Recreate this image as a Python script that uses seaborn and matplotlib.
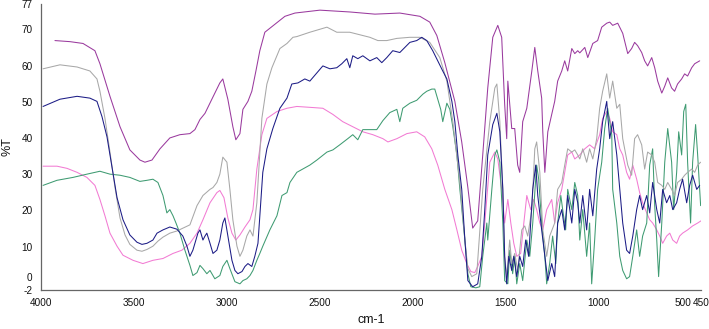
import numpy as np
import pandas as pd
import matplotlib
matplotlib.use("Agg")
import matplotlib.pyplot as plt
import seaborn as sns

# ---- data (wavenumber cm-1, %T) ----
purple_wn = [3925, 3844, 3774, 3710, 3683, 3629, 3575, 3522, 3468, 3441, 3403, 3360, 3307, 3253, 3199, 3172, 3145, 3118, 3081, 3038, 3022, 2995, 2968, 2952, 2930, 2914, 2887, 2866, 2844, 2823, 2796, 2742, 2688, 2634, 2500, 2339, 2204, 2070, 1962, 1909, 1871, 1828, 1774, 1737, 1704, 1678, 1651, 1624, 1597, 1570, 1543, 1522, 1506, 1495, 1489, 1468, 1452, 1436, 1425, 1409, 1387, 1360, 1344, 1328, 1307, 1301, 1290, 1274, 1253, 1237, 1221, 1199, 1183, 1167, 1145, 1129, 1113, 1102, 1075, 1059, 1032, 1006, 984, 957, 941, 925, 898, 871, 844, 823, 807, 791, 769, 753, 737, 715, 699, 683, 661, 645, 629, 608, 592, 576, 554, 538, 522, 500, 484, 457]
purple_t = [66.9, 66.6, 66.1, 64.1, 60.5, 51.5, 43.1, 36.7, 33.9, 33.3, 33.9, 37.0, 40.0, 40.9, 41.2, 42.3, 45.1, 46.8, 50.7, 55.2, 56.3, 50.7, 43.1, 39.5, 41.2, 47.9, 50.1, 52.9, 58.5, 64.1, 69.2, 71.4, 73.6, 74.5, 75.3, 74.8, 74.2, 74.5, 73.6, 72.0, 68.3, 60.8, 50.1, 38.9, 26.3, 15.1, 17.1, 35.3, 53.8, 67.8, 71.1, 67.8, 49.3, 39.8, 55.7, 42.6, 42.6, 32.5, 30.5, 44.5, 48.2, 58.5, 65.0, 58.5, 51.0, 41.7, 30.5, 41.7, 46.5, 50.1, 55.7, 58.5, 61.3, 58.5, 64.7, 63.3, 64.1, 63.5, 65.0, 62.2, 66.1, 66.9, 70.6, 71.7, 72.0, 71.1, 71.7, 68.9, 63.3, 64.7, 66.4, 65.5, 63.6, 61.3, 59.9, 62.2, 59.4, 55.7, 52.4, 54.3, 56.6, 53.8, 52.9, 54.9, 56.3, 57.7, 57.1, 59.4, 60.5, 61.3]

gray_wn = [3989, 3898, 3806, 3737, 3699, 3683, 3656, 3629, 3602, 3575, 3548, 3522, 3484, 3457, 3430, 3398, 3371, 3344, 3307, 3269, 3199, 3161, 3129, 3091, 3075, 3054, 3038, 3022, 3000, 2984, 2968, 2946, 2930, 2914, 2893, 2876, 2860, 2839, 2812, 2785, 2758, 2715, 2677, 2645, 2624, 2554, 2462, 2409, 2339, 2231, 2188, 2140, 2086, 2016, 1962, 1909, 1855, 1817, 1785, 1747, 1720, 1704, 1683, 1656, 1624, 1586, 1559, 1548, 1532, 1516, 1506, 1495, 1479, 1468, 1452, 1436, 1414, 1398, 1382, 1360, 1344, 1334, 1317, 1301, 1280, 1264, 1237, 1221, 1199, 1183, 1167, 1145, 1129, 1113, 1102, 1086, 1065, 1049, 1032, 1011, 995, 979, 957, 941, 925, 903, 887, 871, 844, 823, 807, 791, 769, 753, 737, 715, 699, 683, 661, 645, 629, 608, 592, 576, 554, 538, 522, 500, 484, 468, 452]
gray_t = [59.1, 60.2, 59.6, 58.5, 56.3, 52.9, 45.4, 36.1, 26.3, 17.9, 13.2, 10.6, 9.0, 8.7, 9.2, 10.1, 11.5, 12.6, 13.7, 14.3, 16.0, 21.3, 24.1, 25.8, 26.3, 27.7, 30.0, 34.7, 33.3, 25.8, 17.4, 10.1, 7.3, 9.0, 12.9, 14.6, 12.9, 22.1, 45.4, 54.9, 59.4, 64.7, 66.1, 67.8, 68.0, 69.2, 70.6, 69.2, 69.2, 67.8, 66.9, 66.9, 67.5, 67.8, 67.8, 66.4, 62.2, 55.7, 44.5, 27.7, 11.8, 3.9, 1.7, 2.5, 25.8, 44.5, 53.8, 54.9, 44.5, 25.8, 7.3, 1.7, 11.8, 5.3, 8.1, 3.4, 14.6, 15.7, 12.9, 20.2, 37.0, 38.9, 30.5, 14.6, 7.3, 12.9, 16.5, 25.8, 27.7, 32.5, 37.0, 36.1, 36.7, 35.3, 34.2, 37.0, 33.3, 37.0, 34.2, 39.8, 48.2, 52.9, 57.7, 51.0, 55.7, 48.2, 49.3, 39.8, 32.5, 29.7, 39.8, 40.9, 38.1, 31.4, 36.1, 35.3, 33.3, 27.7, 26.9, 25.8, 27.7, 25.8, 24.1, 27.7, 28.6, 29.7, 30.5, 31.4, 30.5, 32.5, 33.3]

blue_wn = [3989, 3898, 3806, 3737, 3699, 3672, 3645, 3618, 3591, 3559, 3522, 3484, 3457, 3430, 3398, 3376, 3344, 3307, 3269, 3237, 3215, 3199, 3183, 3156, 3145, 3129, 3118, 3108, 3091, 3075, 3054, 3038, 3022, 3011, 2995, 2973, 2957, 2941, 2919, 2903, 2887, 2866, 2850, 2833, 2807, 2785, 2753, 2715, 2677, 2651, 2618, 2581, 2554, 2516, 2484, 2446, 2409, 2382, 2355, 2339, 2323, 2296, 2269, 2231, 2194, 2167, 2140, 2108, 2070, 2043, 2016, 1979, 1952, 1925, 1893, 1866, 1839, 1817, 1790, 1774, 1758, 1737, 1720, 1704, 1678, 1651, 1629, 1613, 1597, 1570, 1548, 1532, 1516, 1506, 1495, 1484, 1468, 1457, 1441, 1425, 1409, 1393, 1377, 1355, 1339, 1328, 1307, 1290, 1274, 1253, 1237, 1221, 1199, 1183, 1167, 1145, 1129, 1113, 1102, 1086, 1065, 1049, 1032, 1011, 995, 979, 957, 952, 941, 925, 903, 887, 871, 850, 834, 817, 796, 780, 764, 742, 726, 710, 688, 672, 656, 635, 618, 602, 581, 565, 549, 527, 511, 495, 473, 457]
blue_t = [48.7, 50.7, 51.5, 51.0, 50.1, 45.9, 40.3, 31.9, 23.5, 17.4, 13.2, 11.2, 10.6, 10.9, 11.8, 13.7, 14.6, 15.4, 14.8, 12.9, 10.1, 7.3, 9.0, 13.7, 14.6, 11.8, 12.9, 13.7, 10.9, 8.1, 9.0, 11.8, 16.5, 17.9, 12.9, 6.2, 3.4, 2.5, 3.1, 4.5, 5.3, 4.5, 7.3, 10.9, 30.5, 37.0, 42.6, 48.2, 51.0, 54.9, 55.2, 56.3, 55.7, 58.0, 59.9, 59.1, 59.4, 60.5, 61.9, 59.4, 62.7, 61.9, 62.7, 61.3, 62.2, 60.8, 62.2, 64.1, 63.6, 65.0, 66.4, 66.9, 67.8, 66.9, 64.1, 61.3, 58.5, 56.3, 50.1, 44.5, 35.3, 25.8, 11.8, 0.6, -1.1, -0.3, 7.3, 20.2, 35.3, 43.7, 46.8, 41.7, 25.8, 7.3, -0.3, 7.3, 3.4, 7.3, 1.7, 7.3, 4.5, 11.8, 7.3, 25.8, 32.5, 24.1, 14.6, 7.3, 0.6, 5.3, 1.7, 16.5, 20.2, 14.6, 24.1, 16.5, 25.8, 22.1, 16.5, 24.1, 14.6, 25.8, 18.5, 31.4, 37.0, 44.5, 50.1, 46.5, 39.8, 44.5, 35.3, 25.8, 16.5, 9.0, 8.1, 12.9, 20.2, 24.1, 20.2, 24.1, 19.3, 27.7, 20.2, 16.5, 25.8, 22.1, 24.1, 20.2, 22.1, 25.8, 28.6, 22.1, 26.9, 29.7, 25.8, 26.9]

green_wn = [3989, 3914, 3828, 3753, 3683, 3629, 3575, 3522, 3468, 3430, 3398, 3371, 3344, 3323, 3307, 3290, 3274, 3253, 3226, 3199, 3183, 3161, 3145, 3129, 3108, 3091, 3065, 3038, 3022, 3000, 2984, 2957, 2930, 2914, 2893, 2876, 2860, 2839, 2823, 2807, 2769, 2731, 2704, 2677, 2661, 2624, 2592, 2554, 2516, 2462, 2430, 2393, 2350, 2323, 2296, 2269, 2231, 2194, 2161, 2124, 2086, 2070, 2054, 2016, 1979, 1946, 1925, 1898, 1882, 1866, 1850, 1839, 1817, 1801, 1785, 1763, 1747, 1720, 1704, 1688, 1661, 1640, 1624, 1602, 1597, 1575, 1559, 1548, 1532, 1516, 1506, 1489, 1479, 1463, 1452, 1441, 1425, 1409, 1387, 1371, 1355, 1334, 1323, 1307, 1290, 1280, 1264, 1248, 1231, 1221, 1204, 1194, 1178, 1167, 1145, 1129, 1113, 1102, 1086, 1065, 1049, 1038, 1022, 1006, 984, 968, 952, 930, 925, 903, 887, 871, 850, 834, 817, 796, 780, 764, 742, 726, 710, 699, 688, 678, 661, 645, 629, 608, 597, 581, 570, 554, 543, 532, 522, 506, 495, 479, 468, 452]
green_t = [26.9, 28.3, 29.1, 30.0, 30.8, 30.0, 29.7, 29.1, 28.0, 28.3, 28.6, 27.7, 24.1, 19.3, 20.2, 18.5, 16.5, 13.7, 9.0, 4.8, 2.0, 2.8, 4.8, 3.9, 2.5, 3.4, 1.1, 2.0, 4.5, 6.2, 3.9, 0.3, -0.3, 0.6, 1.1, 2.0, 3.4, 6.2, 8.1, 10.1, 14.6, 18.5, 24.1, 24.9, 27.7, 30.5, 31.4, 32.5, 33.9, 36.1, 36.7, 38.1, 39.8, 40.9, 39.5, 42.3, 42.3, 42.3, 44.8, 47.0, 47.9, 44.5, 48.2, 49.6, 50.4, 52.1, 52.9, 53.5, 53.5, 50.7, 47.9, 44.5, 49.6, 47.9, 43.1, 35.3, 25.8, 11.8, 2.5, -1.1, -1.4, -1.1, 7.3, 16.5, 11.8, 25.8, 35.3, 36.7, 33.3, 16.5, 0.6, -0.3, 9.0, 2.5, 7.3, -0.3, 5.3, 0.6, 11.8, 7.3, 16.5, 32.5, 28.6, 16.5, 7.3, -0.3, 5.3, 12.9, 5.3, 16.5, 24.1, 20.2, 14.6, 25.8, 20.2, 27.7, 24.1, 11.8, 20.2, 7.3, 16.5, -0.3, 11.8, 25.8, 33.3, 42.6, 48.2, 40.9, 25.8, 16.5, 7.3, 3.4, 1.1, 1.7, 7.3, 14.6, 7.3, 12.9, 16.5, 32.5, 37.0, 21.3, 11.8, 1.7, 16.5, 33.3, 42.6, 33.3, 20.2, 30.5, 41.7, 35.3, 47.3, 49.3, 33.3, 16.5, 33.3, 43.7, 35.3, 21.3]

pink_wn = [3989, 3914, 3860, 3806, 3753, 3710, 3683, 3656, 3629, 3591, 3559, 3505, 3452, 3398, 3344, 3290, 3242, 3199, 3161, 3129, 3091, 3054, 3038, 3016, 2995, 2973, 2952, 2930, 2903, 2876, 2860, 2839, 2812, 2785, 2731, 2677, 2624, 2538, 2484, 2430, 2377, 2323, 2269, 2215, 2161, 2134, 2086, 2032, 1979, 1936, 1898, 1866, 1828, 1790, 1763, 1737, 1710, 1688, 1667, 1651, 1629, 1613, 1586, 1559, 1543, 1522, 1506, 1489, 1473, 1457, 1441, 1420, 1403, 1387, 1366, 1350, 1334, 1317, 1301, 1280, 1253, 1237, 1221, 1199, 1183, 1167, 1145, 1129, 1102, 1075, 1049, 1022, 995, 979, 957, 941, 925, 903, 887, 871, 850, 834, 817, 796, 780, 764, 742, 726, 710, 688, 672, 656, 635, 618, 602, 581, 565, 549, 522, 495, 468, 450]
pink_t = [32.2, 32.2, 31.6, 30.5, 29.1, 26.9, 23.0, 18.5, 13.7, 10.1, 7.6, 6.2, 5.3, 6.2, 6.7, 8.1, 9.0, 10.9, 13.7, 17.4, 22.1, 24.9, 25.5, 23.5, 17.9, 13.7, 11.8, 13.2, 15.4, 17.4, 20.2, 31.4, 40.9, 45.4, 47.3, 48.2, 48.7, 48.4, 48.2, 46.5, 44.5, 43.1, 41.7, 40.9, 39.8, 38.9, 39.8, 41.2, 41.7, 40.3, 37.0, 32.5, 25.8, 20.2, 14.6, 9.0, 5.3, 3.1, 2.8, 4.5, 7.3, 16.5, 33.3, 36.1, 34.2, 25.8, 16.5, 23.0, 16.5, 10.9, 7.3, 8.1, 16.5, 24.1, 20.2, 23.0, 20.2, 16.5, 14.6, 20.2, 23.0, 16.5, 22.1, 25.8, 30.5, 35.3, 36.1, 34.2, 35.3, 37.0, 38.1, 37.0, 40.9, 45.4, 47.3, 45.4, 41.7, 40.9, 37.0, 35.3, 30.5, 28.6, 32.5, 28.6, 24.9, 22.1, 19.3, 17.4, 16.5, 14.6, 12.9, 10.9, 12.9, 13.7, 11.8, 10.9, 12.9, 13.7, 14.6, 15.7, 16.5, 17.1]

x_ticks = [4000, 3500, 3000, 2500, 2000, 1500, 1000, 500, 450]
y_ticks = [-2, 0, 10, 20, 30, 40, 50, 60, 70, 77]

series = {
    "pink": (pink_wn, pink_t),
    "green": (green_wn, green_t),
    "gray": (gray_wn, gray_t),
    "blue": (blue_wn, blue_t),
    "purple": (purple_wn, purple_t),
}
palette = {
    "pink": "#f27bd3",
    "green": "#3f9b72",
    "gray": "#a8a8a8",
    "blue": "#1c1c86",
    "purple": "#9a3a9e",
}

frames = [pd.DataFrame({"wn": w, "T": t, "s": k}) for k, (w, t) in series.items()]
df = pd.concat(frames, ignore_index=True)

sns.set_style("white")
plt.rcParams["font.family"] = ["Liberation Sans", "DejaVu Sans"]

fig = plt.figure(figsize=(7.09, 3.29), dpi=100)
ax = fig.add_axes([41 / 709, 1 - 290 / 329, 660 / 709, 286 / 329])

sns.lineplot(data=df, x="wn", y="T", hue="s", palette=palette, estimator=None,
             sort=True, linewidth=0.75, legend=False, ax=ax)

ax.set_xlim(4000, 450)
ax.set_ylim(-2, 77)
ax.set_xticks(x_ticks)
ax.set_xticklabels([str(v) for v in x_ticks], fontsize=7.2)
ax.set_yticks(y_ticks)
ax.set_yticklabels([str(v) for v in y_ticks], fontsize=7.2)
for lab in ax.get_xticklabels():
    if lab.get_text() == "500":
        lab.set_horizontalalignment("right")
for lab in ax.get_yticklabels():
    if lab.get_text() == "0":
        lab.set_verticalalignment("bottom")
ax.tick_params(axis="both", direction="out", length=3, width=0.8, color="#555555",
               pad=3, labelcolor="#111111")
ax.set_xlabel("cm-1", fontsize=9, labelpad=4, color="#111111")
ax.set_ylabel("%T", fontsize=9, labelpad=6, color="#111111")
for side in ["top", "right"]:
    ax.spines[side].set_visible(False)
for side in ["left", "bottom"]:
    ax.spines[side].set_color("#666666")
    ax.spines[side].set_linewidth(0.9)
ax.grid(False)

fig.savefig("out.png", dpi=100)
